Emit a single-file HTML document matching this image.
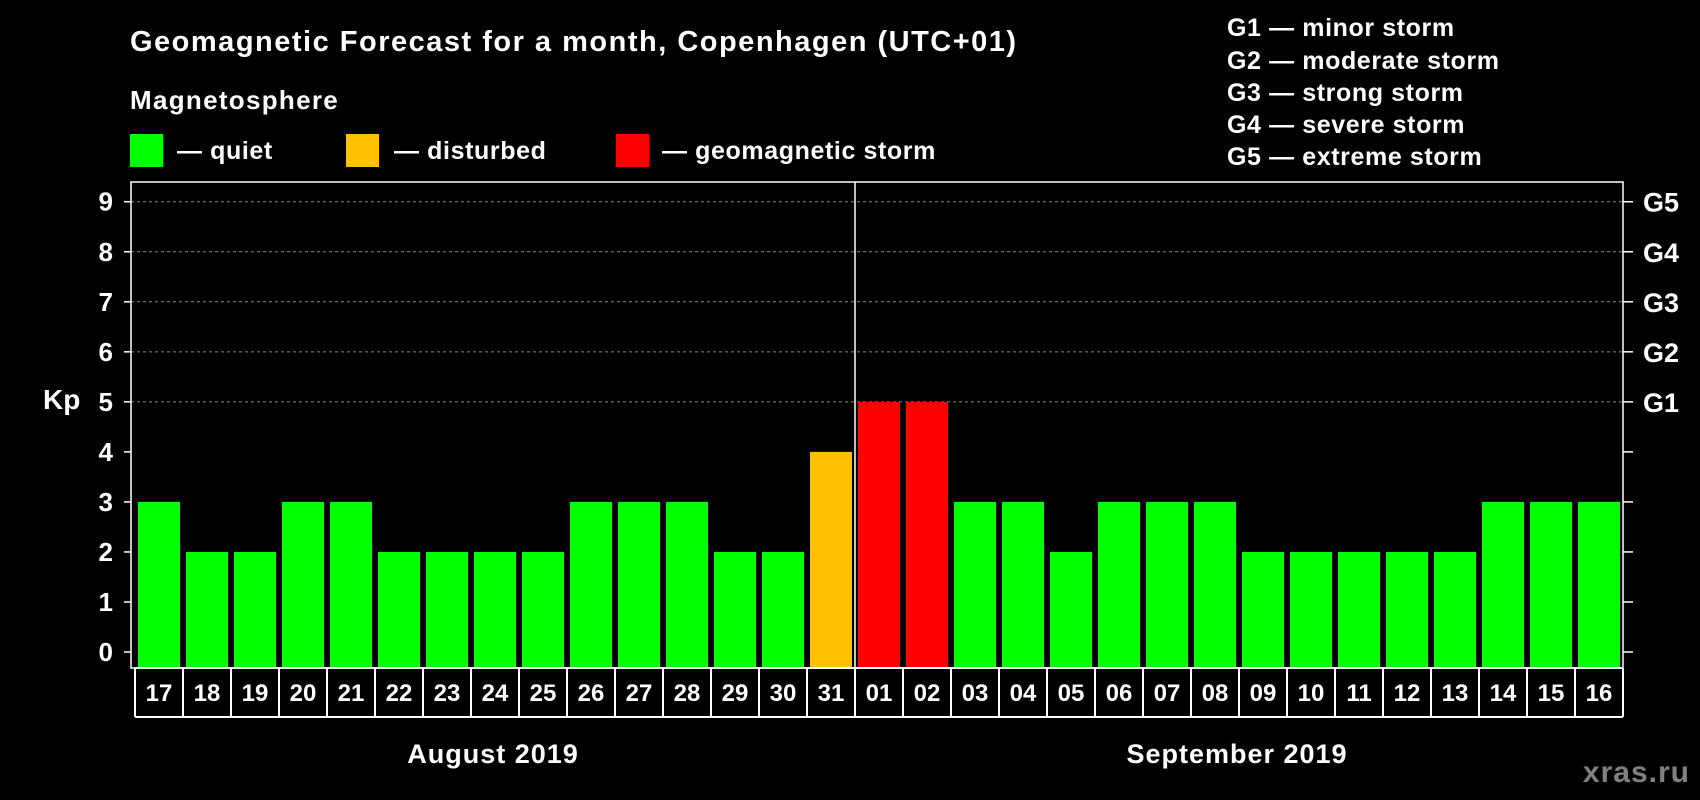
<!DOCTYPE html>
<html><head><meta charset="utf-8"><style>
body{margin:0;background:#000;}
svg{display:block;font-family:"Liberation Sans",Arial,sans-serif;font-weight:bold;}
</style></head><body>
<svg id="chart" width="1700" height="800" viewBox="0 0 1700 800">
<rect width="1700" height="800" fill="#000"/>
<text x="130" y="51" fill="#fff" font-size="29" letter-spacing="1.5">Geomagnetic Forecast for a month, Copenhagen (UTC+01)</text>
<text x="130" y="109" fill="#fff" font-size="26" letter-spacing="1.3">Magnetosphere</text>
<g><rect x="130" y="134" width="33" height="33" fill="#00ff00"/><text x="177" y="159" fill="#fff" font-size="25" letter-spacing="0.6">— quiet</text></g>
<g><rect x="346" y="134" width="33" height="33" fill="#ffc000"/><text x="394" y="159" fill="#fff" font-size="25" letter-spacing="0.6">— disturbed</text></g>
<g><rect x="616" y="134" width="33" height="33" fill="#ff0000"/><text x="662" y="159" fill="#fff" font-size="25" letter-spacing="0.6">— geomagnetic storm</text></g>
<g fill="#fff" font-size="25" letter-spacing="0.6">
<text x="1227" y="36">G1 — minor storm</text>
<text x="1227" y="69">G2 — moderate storm</text>
<text x="1227" y="101">G3 — strong storm</text>
<text x="1227" y="133">G4 — severe storm</text>
<text x="1227" y="165">G5 — extreme storm</text>
</g>
<text x="43" y="409" fill="#fff" font-size="28">Kp</text>
<g id="grid"></g><g id="bars"></g><g id="axes"></g><g id="labels"></g>
<text x="493" y="763" fill="#fff" font-size="27" letter-spacing="1" text-anchor="middle">August 2019</text>
<text x="1237" y="763" fill="#fff" font-size="27" letter-spacing="1" text-anchor="middle">September 2019</text>
<text x="1690" y="782" fill="#808080" font-size="30" letter-spacing="1" text-anchor="end">xras.ru</text>
</svg>
<script>
const days=["17","18","19","20","21","22","23","24","25","26","27","28","29","30","31","01","02","03","04","05","06","07","08","09","10","11","12","13","14","15","16"];
const kp=[3,2,2,3,3,2,2,2,2,3,3,3,2,2,4,5,5,3,3,2,3,3,3,2,2,2,2,2,3,3,3];
const yTicks=[0,1,2,3,4,5,6,7,8,9];
const gLabels=["G1","G2","G3","G4","G5"];
const NS="http://www.w3.org/2000/svg";
const L=131,R=1623,T=182,B=668,cell0=135,pitch=48;
const y=v=>652-v*50.03;
const x=i=>cell0+i*pitch;
function mk(t,a,p){const e=document.createElementNS(NS,t);for(const k in a)e.setAttribute(k,a[k]);p.appendChild(e);return e;}
const grid=document.getElementById('grid'),bars=document.getElementById('bars'),axes=document.getElementById('axes'),labels=document.getElementById('labels');
yTicks.forEach(v=>{
  if(v>=5){const g=mk('line',{x1:L,x2:R,y1:y(v),y2:y(v),stroke:'#888','stroke-dasharray':'3,3','stroke-width':1},grid);
  
  }
  const t=mk('text',{x:113,y:y(v)+9,fill:'#fff','font-size':26,'text-anchor':'end'},axes);t.textContent=v;
  
  
  mk('line',{x1:L-7,x2:L,y1:y(v),y2:y(v),stroke:'#fff','stroke-width':1.5},axes);
  mk('line',{x1:R,x2:R+10,y1:y(v),y2:y(v),stroke:'#fff','stroke-width':1.5},axes);
});
gLabels.forEach((g,i)=>{const t=mk('text',{x:1643,y:y(i+5)+10,fill:'#fff','font-size':27},axes);t.textContent=g;
  
  });
kp.forEach((v,i)=>{
  const c=v>=5?'#ff0000':(v>=4?'#ffc000':'#00ff00');
  const r=mk('rect',{x:x(i)+3,y:y(v),width:42,height:B-y(v),fill:c},bars);
  
  
  const t=mk('text',{x:x(i)+24,y:701,fill:'#fff','font-size':24,'text-anchor':'middle'},labels);t.textContent=days[i];
  
  
  mk('line',{x1:x(i),x2:x(i),y1:B,y2:717,stroke:'#fff','stroke-width':2},labels);
});
mk('line',{x1:R,x2:R,y1:B,y2:717,stroke:'#fff','stroke-width':2},labels);
mk('line',{x1:cell0,x2:R,y1:717,y2:717,stroke:'#fff','stroke-width':2},labels);
mk('line',{x1:cell0,x2:R,y1:B,y2:B,stroke:'#fff','stroke-width':2},labels);
mk('rect',{x:L,y:T,width:R-L,height:B-T,fill:'none',stroke:'#fff','stroke-width':1.5},axes);
mk('line',{x1:x(15),x2:x(15),y1:T,y2:B,stroke:'#fff','stroke-width':1.5},axes);
</script>
</body></html>
